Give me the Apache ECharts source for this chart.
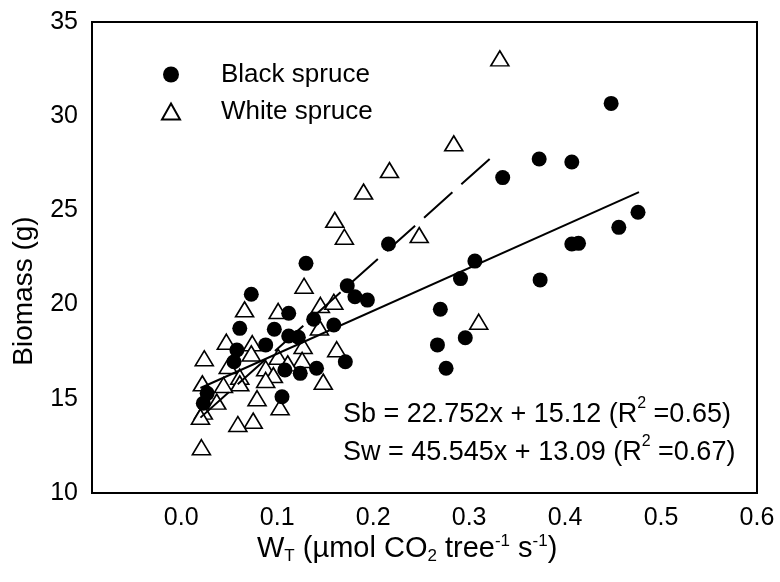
<!DOCTYPE html>
<html>
<head>
<meta charset="utf-8">
<title>Biomass vs W_T</title>
<script src="https://cdn.jsdelivr.net/npm/echarts@6/dist/echarts.min.js"></script>
<style>
  html, body { margin: 0; padding: 0; background: #fff; }
  #chart { width: 780px; height: 582px; }
</style>
</head>
<body>
<div id="chart"></div>
<script>
// Whole-tree photosynthesis (W_T) against seedling biomass, two spruce species

const xTicks = [0.0, 0.1, 0.2, 0.3, 0.4, 0.5, 0.6];
const yTicks = [10, 15, 20, 25, 30, 35];

const blackSpruce = [
  [0.448, 30.68], [0.373, 27.73], [0.407, 27.57], [0.335, 26.74], [0.216, 23.22],
  [0.476, 24.90], [0.456, 24.10], [0.407, 23.22], [0.414, 23.25], [0.306, 22.31],
  [0.291, 21.38], [0.374, 21.31], [0.270, 19.75], [0.296, 18.24], [0.267, 17.86],
  [0.276, 16.62], [0.130, 22.19], [0.173, 21.00], [0.181, 20.42], [0.194, 20.24],
  [0.073, 20.55], [0.112, 19.54], [0.061, 18.74], [0.097, 18.69], [0.138, 19.22],
  [0.159, 18.92], [0.112, 18.33], [0.122, 18.27], [0.088, 17.86], [0.058, 17.59],
  [0.055, 16.97], [0.108, 16.53], [0.124, 16.35], [0.141, 16.62], [0.171, 16.97],
  [0.105, 15.11], [0.027, 15.29], [0.023, 14.76]
];

const whiteSpruce = [
  [0.332, 33.07], [0.284, 28.56], [0.217, 27.14], [0.248, 23.69], [0.310, 19.09],
  [0.190, 26.00], [0.160, 24.50], [0.170, 23.60], [0.128, 21.00], [0.066, 19.75],
  [0.101, 19.66], [0.145, 19.98], [0.159, 20.15], [0.144, 18.79], [0.162, 17.63],
  [0.047, 18.03], [0.074, 17.95], [0.024, 17.15], [0.049, 16.74], [0.073, 17.41],
  [0.101, 17.23], [0.127, 17.80], [0.126, 17.06], [0.111, 16.88], [0.088, 16.62],
  [0.096, 16.26], [0.088, 16.00], [0.061, 16.17], [0.061, 15.82], [0.044, 15.73],
  [0.022, 15.82], [0.037, 14.85], [0.079, 15.03], [0.103, 14.55], [0.023, 14.32],
  [0.020, 14.05], [0.075, 13.84], [0.059, 13.66], [0.021, 12.43], [0.148, 15.91]
];

// Linear fits: slope, intercept, R², and the x-range each fit is drawn over
const fitBlack = { slope: 22.752, intercept: 15.12, r2: 0.65, from: 0.020, to: 0.477 };
const fitWhite = { slope: 45.545, intercept: 13.09, r2: 0.67, from: 0.020, to: 0.3255 };

const FONT = '"Liberation Sans", Arial, Helvetica, sans-serif';

function fitLine(f) {
  return [
    [f.from, f.slope * f.from + f.intercept],
    [f.to, f.slope * f.to + f.intercept]
  ];
}

const chart = echarts.init(document.getElementById('chart'), null, { renderer: 'canvas' });

const supStyle = { fontSize: 17, fontFamily: FONT, color: '#000', verticalAlign: 'top', lineHeight: 16 };
const subStyle = { fontSize: 17, fontFamily: FONT, color: '#000', verticalAlign: 'bottom', lineHeight: 16 };
const normStyle = { fontSize: 29, fontFamily: FONT, color: '#000', lineHeight: 32 };

chart.setOption({
  animation: false,
  backgroundColor: '#fff',
  grid: {
    left: 92, right: 23, top: 22, bottom: 89,
    show: true, borderColor: '#000', borderWidth: 2
  },
  legend: {
    orient: 'vertical',
    left: 156, top: 56,
    itemWidth: 18, itemHeight: 16, itemGap: 10,
    textStyle: { fontSize: 26, fontFamily: FONT, color: '#000', lineHeight: 27, padding: [0, 0, 0, 36] },
    data: ['Black spruce', 'White spruce']
  },
  xAxis: {
    type: 'value',
    min: -0.093, max: 0.6,
    axisLine: { show: true, onZero: false, lineStyle: { color: '#000', width: 2 } },
    axisTick: { show: false },
    splitLine: { show: false },
    axisLabel: {
      customValues: xTicks,
      formatter: v => v.toFixed(1),
      fontSize: 25, fontFamily: FONT, color: '#000', margin: 13
    }
  },
  yAxis: {
    type: 'value',
    min: 10, max: 35, interval: 5,
    axisLine: { show: true, onZero: false, lineStyle: { color: '#000', width: 2 } },
    axisTick: { show: false },
    splitLine: { show: false },
    axisLabel: {
      customValues: yTicks,
      formatter: v => String(v),
      fontSize: 25, fontFamily: FONT, color: '#000', margin: 14
    }
  },
  graphic: [
    {
      type: 'text', left: 10, top: 'middle', rotation: Math.PI / 2,
      style: { text: 'Biomass (g)', fontSize: 28, fontFamily: FONT, fill: '#000' },
      y: -12
    },
    {
      type: 'text', left: 257, top: 533,
      style: {
        text: '{n|W}{sub|T}{n| (µmol CO}{sub|2}{n| tree}{sup|-1}{n| s}{sup|-1}{n|)}',
        rich: { n: normStyle, sub: subStyle, sup: supStyle }
      }
    },
    {
      type: 'text', left: 343, top: 396,
      style: {
        text: '{n|Sb = 22.752x + 15.12 (R}{sup|2}{n| =0.65)}\n{n|Sw = 45.545x + 13.09 (R}{sup|2}{n| =0.67)}',
        rich: {
          n: { fontSize: 27, fontFamily: FONT, color: '#000', lineHeight: 38 },
          sup: { fontSize: 16, fontFamily: FONT, color: '#000', verticalAlign: 'top', lineHeight: 25 }
        }
      }
    }
  ],
  series: [
    {
      name: 'Black spruce',
      type: 'scatter',
      data: blackSpruce,
      symbol: 'circle',
      symbolSize: 15,
      itemStyle: { color: '#000', opacity: 1 },
      z: 3
    },
    {
      name: 'White spruce',
      type: 'scatter',
      data: whiteSpruce,
      symbol: 'triangle',
      symbolSize: [18, 15],
      itemStyle: { color: '#fff', borderColor: '#000', borderWidth: 1.6, opacity: 1 },
      z: 2
    },
    {
      name: 'Black spruce fit',
      type: 'line',
      data: fitLine(fitBlack),
      symbol: 'none',
      lineStyle: { color: '#000', width: 2, type: 'solid' },
      z: 4
    },
    {
      name: 'White spruce fit',
      type: 'line',
      data: fitLine(fitWhite),
      symbol: 'none',
      lineStyle: { color: '#000', width: 2, type: [38, 12] },
      z: 4
    }
  ]
});
</script>
</body>
</html>
